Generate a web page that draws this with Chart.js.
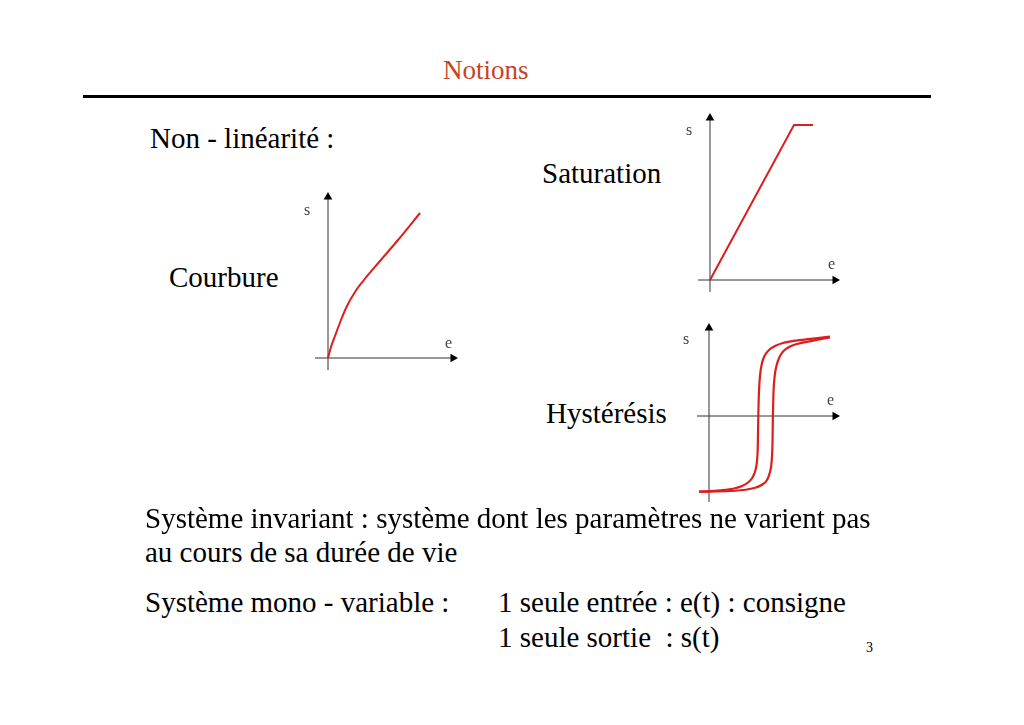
<!DOCTYPE html>
<html>
<head>
<meta charset="utf-8">
<script src="https://cdn.jsdelivr.net/npm/chart.js@4"></script>
<style>
  html, body { margin: 0; padding: 0; background: #fff; }
  #slide { position: relative; width: 1024px; height: 725px; overflow: hidden; background: #fff;
           font-family: "Liberation Serif", "Times New Roman", serif; color: #000; }
  .t { position: absolute; white-space: pre; line-height: 1; }
  .ax { position: absolute; white-space: pre; line-height: 1; color: #444; font-family: "Liberation Serif", serif; }
  canvas { position: absolute; }
  #rule { position: absolute; left: 83px; top: 95px; width: 848px; height: 3px; background: #000; }
</style>
</head>
<body>
<div id="slide">
  <div id="rule"></div>
  <canvas id="c1"></canvas>
  <canvas id="c2"></canvas>
  <canvas id="c3"></canvas>
</div>
<script>
// ---- Text content ----
const titleText = "Notions";
const slideTexts = [
  ["Non - linéarité :", 150, 148, 29],
  ["Courbure", 169, 287, 29],
  ["Saturation", 542, 183, 29],
  ["Hystérésis", 546, 423, 29],
  ["Système invariant : système dont les paramètres ne varient pas", 145, 528, 29],
  ["au cours de sa durée de vie", 145, 562, 29],
  ["Système mono - variable :", 145, 612, 29],
  ["1 seule entrée : e(t) : consigne", 498, 612, 29],
  ["1 seule sortie  : s(t)", 498, 647, 29]
];
const pageNumber = "3";

// ---- Chart data ----
// Courbure
const courbureE = [0, 3, 7, 13, 19, 27, 36, 52, 70, 92];
const courbureS = [0, 11, 22, 38, 52, 66, 78, 97, 118, 145];
// Saturation
const saturationE = [0, 84, 103];
const saturationS = [0, 155, 155];
// Hystérésis - left branch
const hystLeftE = [-10, 11, 25, 33, 39, 43.5, 46.5, 48, 48.8, 49.3, 50, 51.2, 53, 56, 60.5, 66, 74, 90, 121];
const hystLeftS = [-75.7, -74.3, -72.5, -70, -66.5, -61.5, -54, -45, -30, 0, 25, 42, 53, 61, 66.5, 70, 73, 75.8, 79.3];
// Hystérésis - right branch
const hystRightE = [-10, 21, 38, 47, 53.5, 58, 61, 62.7, 63.5, 63.9, 64.5, 65.7, 67.7, 70.5, 74.5, 80, 88, 104, 121];
const hystRightS = [-75.7, -75, -73.5, -71.5, -68.5, -64, -56, -45, -27, 0, 24, 40, 51, 59, 65, 69, 72, 75.3, 78.7];

// Axis extents per chart [xmin, xmax, ymin, ymax]
const ext1 = [-13, 130, -12, 166];
const ext2 = [-12, 130, -12, 167];
const ext3 = [-12, 131, -86, 93];

const slide = document.getElementById('slide');
function addText(txt, x, baseline, fs, cls, color) {
  const d = document.createElement('div');
  d.className = cls || 't';
  d.textContent = txt;
  d.style.fontSize = fs + 'px';
  d.style.left = x + 'px';
  d.style.top = (baseline - 0.8375 * fs) + 'px';
  if (color) d.style.color = color;
  slide.appendChild(d);
  return d;
}
addText(titleText, 443, 80, 27, 't', '#c9421d');
slideTexts.forEach(s => addText(s[0], s[1], s[2], s[3]));
addText(pageNumber, 866, 653, 14);
// axis name labels
addText("s", 304, 215, 16, 'ax');
addText("e", 445, 348, 16, 'ax');
addText("s", 686, 135, 16, 'ax');
addText("e", 828, 269, 16, 'ax');
addText("s", 683, 344, 16, 'ax');
addText("e", 827, 405, 16, 'ax');

const RED = '#dc1e1e';
const AXIS = '#333';
const PAD = 10;

function pts(xs, ys) { return xs.map((x, i) => ({x: x, y: ys[i]})); }

function axisSets(ext) {
  const [xmin, xmax, ymin, ymax] = ext;
  const r = 5;
  return [
    { data: [{x: xmin, y: 0}, {x: xmax - r, y: 0}], borderColor: AXIS, backgroundColor: '#000', borderWidth: 1,
      pointRadius: [0, r], pointStyle: 'triangle', pointRotation: [0, 90], pointBorderWidth: 0, clip: false, order: 2 },
    { data: [{x: 0, y: ymin}, {x: 0, y: ymax - r}], borderColor: AXIS, backgroundColor: '#000', borderWidth: 1,
      pointRadius: [0, r], pointStyle: 'triangle', pointRotation: [0, 0], pointBorderWidth: 0, clip: false, order: 2 }
  ];
}

function makeChart(id, ox, oy, ext, curves) {
  const [xmin, xmax, ymin, ymax] = ext;
  const cv = document.getElementById(id);
  const w = (xmax - xmin) + 2 * PAD, h = (ymax - ymin) + 2 * PAD;
  cv.width = w; cv.height = h;
  cv.style.width = w + 'px'; cv.style.height = h + 'px';
  cv.style.left = (ox + xmin - PAD) + 'px';
  cv.style.top = (oy - ymax - PAD) + 'px';
  const datasets = axisSets(ext).concat(curves.map(c => ({
    data: c.data, borderColor: RED, borderWidth: c.width || 2, pointRadius: 0, fill: false,
    tension: c.tension || 0, cubicInterpolationMode: c.mono ? 'monotone' : 'default', clip: false, order: 1
  })));
  return new Chart(cv, {
    type: 'scatter',
    data: { datasets: datasets },
    options: {
      responsive: false, animation: false, showLine: true,
      layout: { padding: PAD },
      plugins: { legend: { display: false }, tooltip: { enabled: false } },
      scales: {
        x: { type: 'linear', min: xmin, max: xmax, display: false },
        y: { type: 'linear', min: ymin, max: ymax, display: false }
      }
    }
  });
}

makeChart('c1', 328, 358, ext1, [{ data: pts(courbureE, courbureS), mono: true }]);
makeChart('c2', 710, 280, ext2, [{ data: pts(saturationE, saturationS) }]);
makeChart('c3', 709, 416, ext3, [
  { data: pts(hystLeftE, hystLeftS), mono: true, width: 2.2 },
  { data: pts(hystRightE, hystRightS), mono: true, width: 2.2 }
]);
</script>
</body>
</html>
